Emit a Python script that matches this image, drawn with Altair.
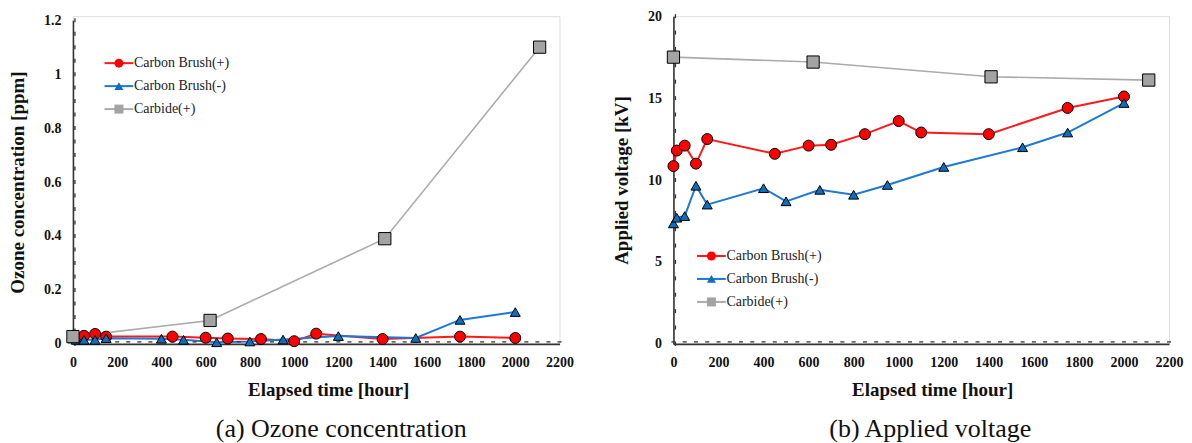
import altair as alt
import pandas as pd

NAMES = ['Carbon Brush(+)', 'Carbon Brush(-)', 'Carbide(+)']
LINE_COLORS = ['#ff1a1a', '#1f78d1', '#ababab']
FILL_COLORS = ['#ff0000', '#0a6fbf', '#a3a3a3']
SHAPES = ['circle', 'triangle-up', 'square']
LINE_WIDTHS = [2, 2, 1.6]
MARK_SIZES = [120, 100, 150]

# (a) Ozone concentration [ppm]
oz_cbp_t = [0, 50, 100, 150, 450, 600, 700, 850, 1000, 1100, 1400, 1750, 2000]
oz_cbp_v = [0.03, 0.03, 0.037, 0.027, 0.027, 0.023, 0.02, 0.018, 0.01, 0.038, 0.018, 0.027, 0.022]
oz_cbm_t = [0, 15, 50, 100, 150, 400, 500, 650, 800, 950, 1200, 1550, 1750, 2000]
oz_cbm_v = [0.02, 0.015, 0.015, 0.015, 0.021, 0.019, 0.015, 0.006, 0.009, 0.016, 0.029, 0.022, 0.089, 0.118]
oz_car_t = [0, 620, 1410, 2110]
oz_car_v = [0.027, 0.087, 0.39, 1.1]

# (b) Applied voltage [kV]
vo_cbp_t = [0, 15, 50, 100, 150, 450, 600, 700, 850, 1000, 1100, 1400, 1750, 2000]
vo_cbp_v = [10.85, 11.8, 12.1, 11.0, 12.5, 11.6, 12.1, 12.15, 12.8, 13.6, 12.9, 12.8, 14.4, 15.1]
vo_cbm_t = [0, 15, 50, 100, 150, 400, 500, 650, 800, 950, 1200, 1550, 1750, 2000]
vo_cbm_v = [7.35, 7.7, 7.8, 9.65, 8.5, 9.5, 8.7, 9.4, 9.1, 9.7, 10.8, 12.0, 12.9, 14.7]
vo_car_t = [0, 620, 1410, 2110]
vo_car_v = [17.5, 17.2, 16.3, 16.1]

X_MAJOR = list(range(0, 2201, 200))
X_MINOR = list(range(0, 2201, 50))
OZ_MAJOR = [0, 0.2, 0.4, 0.6, 0.8, 1, 1.2]
OZ_MINOR = [round(i * 0.05, 2) for i in range(0, 25)]
VO_MAJOR = [0, 5, 10, 15, 20]
VO_MINOR = list(range(0, 21))

SERIF = 'Liberation Serif'
AX_COL = '#333333'
PLOT_H = 328


def frame(series):
    rows = []
    for name, ts, vs in series:
        for t, v in zip(ts, vs):
            # line_series carries a trailing space so its legend stays separate
            rows.append({'series': name, 'line_series': name + ' ', 't': t, 'v': v})
    return pd.DataFrame(rows)


def panel(df, ymax, ymajor, yminor, yfmt, ytitle, subtitle, width, yrange,
          leg_x, leg_y, xtitle_dx, sub_dx):
    xs = alt.Scale(domain=[0, 2200], nice=False, zero=False)
    ys = alt.Scale(domain=[0, ymax], nice=False, range=yrange)
    common_axis = dict(grid=False, domainColor=AX_COL, domainWidth=1.6, ticks=False,
                       labelFont=SERIF, labelFontSize=14, labelFontWeight='bold',
                       labelColor='#111', labelOverlap=False,
                       titleFont=SERIF, titleFontWeight='bold', titleColor='#111',
                       titleFontSize=19)
    xaxis = alt.Axis(values=X_MAJOR, format='d', labelFlush=False, labelPadding=12,
                     titlePadding=11, titleX=width / 2 + xtitle_dx, **common_axis)
    yaxis = alt.Axis(values=ymajor, format=yfmt, labelPadding=12,
                     titlePadding=16, **common_axis)

    line_names = [n + ' ' for n in NAMES]
    leg_common = dict(orient='none', legendX=leg_x, legendY=leg_y, title=None,
                      labelFont=SERIF, labelFontSize=14, labelColor='#222',
                      symbolSize=81, labelOffset=8, rowPadding=9, padding=0)
    color_enc = alt.Color('line_series:N',
                          scale=alt.Scale(domain=line_names, range=LINE_COLORS),
                          legend=alt.Legend(symbolType='M-3.2,0H3.2', symbolStrokeWidth=2,
                                            labelOpacity=0, zindex=1, **leg_common))
    fill_enc = alt.Fill('series:N', scale=alt.Scale(domain=NAMES, range=FILL_COLORS),
                        legend=alt.Legend(symbolStrokeColor='black', symbolStrokeWidth=1,
                                          zindex=2, **leg_common))
    shape_enc = alt.Shape('series:N', scale=alt.Scale(domain=NAMES, range=SHAPES),
                          legend=alt.Legend(symbolStrokeColor='black', symbolStrokeWidth=1,
                                            zindex=2, **leg_common))

    layers = []
    # lines, one layer per series (own stroke width); first one carries the axes
    for i, name in enumerate(NAMES):
        if i == 0:
            xenc = alt.X('t:Q', scale=xs, axis=xaxis, title='Elapsed time [hour]')
            yenc = alt.Y('v:Q', scale=ys, axis=yaxis, title=ytitle)
        else:
            xenc = alt.X('t:Q', axis=None)
            yenc = alt.Y('v:Q', axis=None)
        layers.append(
            alt.Chart(df).transform_filter(alt.datum.series == name)
            .mark_line(strokeWidth=LINE_WIDTHS[i])
            .encode(x=xenc, y=yenc, color=color_enc, order='t:Q')
        )
    # inward minor tick marks along both axes
    layers.append(
        alt.Chart(pd.DataFrame({'t': X_MINOR}))
        .mark_tick(orient='horizontal', size=4, thickness=1.3, color=AX_COL, yOffset=-2, opacity=1)
        .encode(x=alt.X('t:Q', axis=None), y=alt.YDatum(0, axis=None))
    )
    layers.append(
        alt.Chart(pd.DataFrame({'v': yminor}))
        .mark_tick(orient='vertical', size=4, thickness=1.3, color=AX_COL, xOffset=2, opacity=1)
        .encode(y=alt.Y('v:Q', axis=None), x=alt.XDatum(0, axis=None))
    )
    # markers, one layer per series (own size), drawn above all lines
    for i, name in enumerate(NAMES):
        layers.append(
            alt.Chart(df).transform_filter(alt.datum.series == name)
            .mark_point(filled=True, opacity=1, stroke='black', strokeWidth=1,
                        size=MARK_SIZES[i])
            .encode(x=alt.X('t:Q', axis=None), y=alt.Y('v:Q', axis=None),
                    fill=fill_enc, shape=shape_enc)
        )
    return alt.layer(*layers).resolve_axis(
        x='independent', y='independent'
    ).properties(
        width=width, height=PLOT_H,
        title=alt.TitleParams(text=subtitle, orient='bottom', anchor='middle',
                              font=SERIF, fontSize=26, fontWeight='normal',
                              color='#111', offset=16, dx=sub_dx),
    )


df_a = frame([(NAMES[0], oz_cbp_t, oz_cbp_v), (NAMES[1], oz_cbm_t, oz_cbm_v),
              (NAMES[2], oz_car_t, oz_car_v)])
df_b = frame([(NAMES[0], vo_cbp_t, vo_cbp_v), (NAMES[1], vo_cbm_t, vo_cbm_v),
              (NAMES[2], vo_car_t, vo_car_v)])

left = panel(df_a, 1.2, OZ_MAJOR, OZ_MINOR, '~g', 'Ozone concentration [ppm]',
             '(a) Ozone concentration', 487, [PLOT_H, 4], 39, 40, 12, 25)
right = panel(df_b, 20, VO_MAJOR, VO_MINOR, 'd', 'Applied voltage [kV]',
              '(b) Applied voltage', 496, [PLOT_H, 0], 31, 233, 11, 9)

chart = alt.hconcat(left, right, spacing=37).resolve_scale(
    color='independent', fill='independent', shape='independent'
).resolve_legend(
    color='independent', fill='independent', shape='independent'
).properties(
    padding={'left': 0, 'top': 0, 'right': 0, 'bottom': 0}
).configure_view(stroke=None).configure(background='white')

chart.save('out.html', embed_options={'renderer': 'svg', 'actions': False})
